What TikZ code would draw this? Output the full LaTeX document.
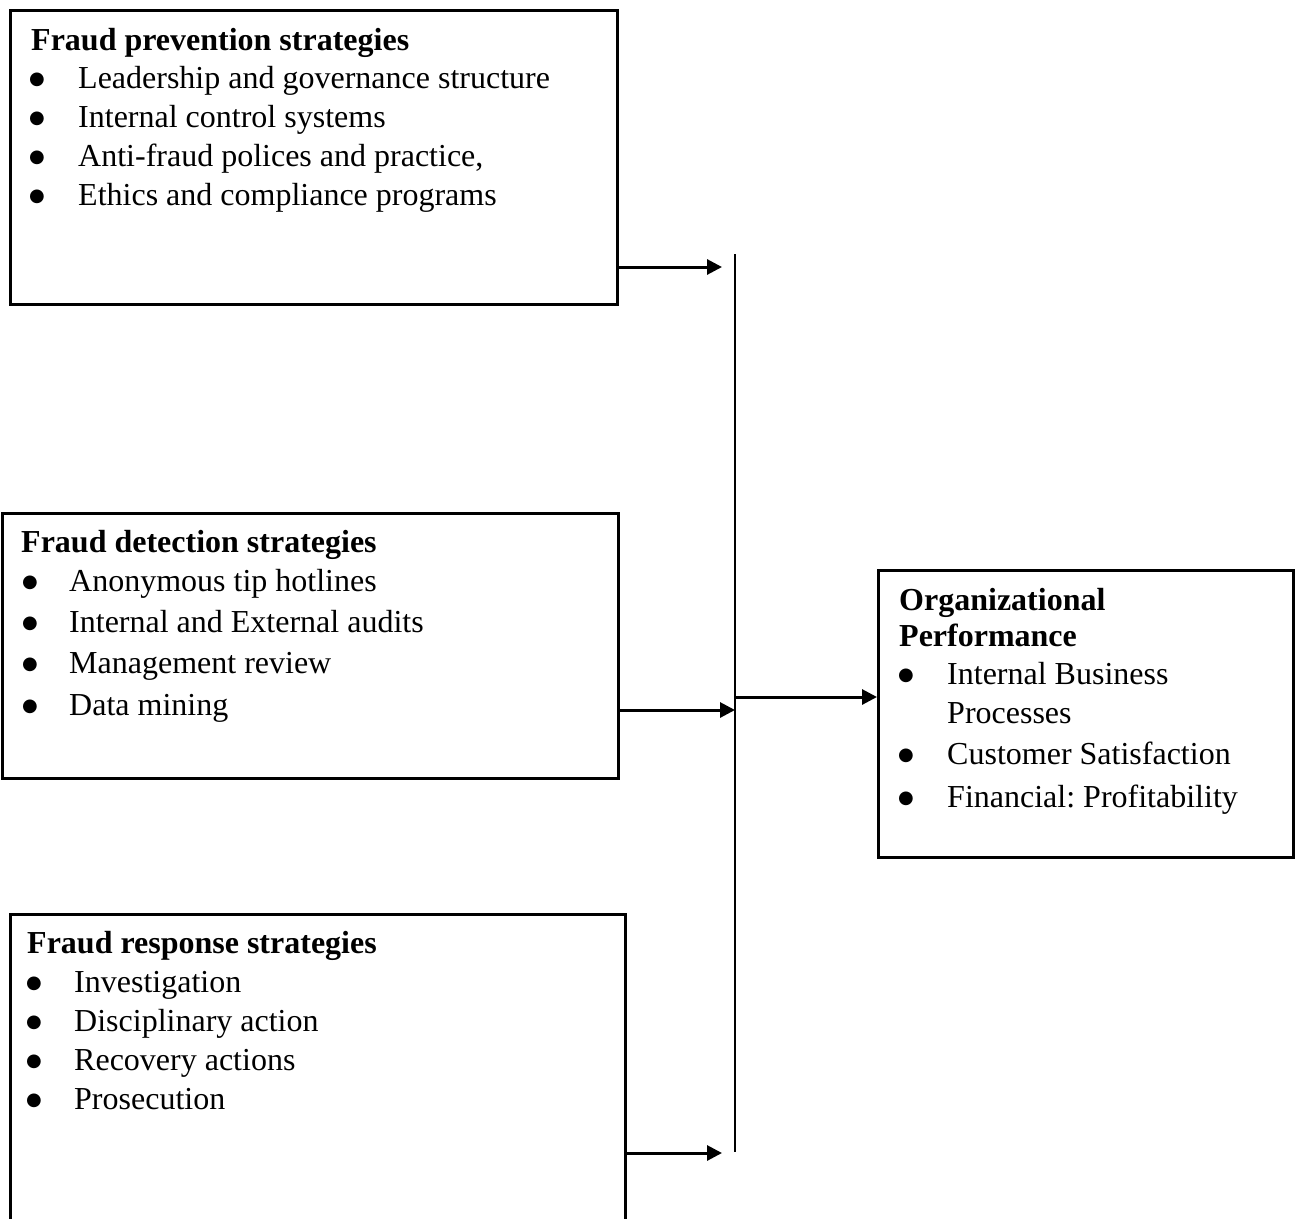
\documentclass[tikz,border=0pt]{standalone}
\usepackage{fontspec}
\setmainfont{Liberation Serif}
\newfontfamily\symfont{DejaVu Sans}
\usetikzlibrary{arrows.meta}
\newcommand\blt{●}
\tikzset{
  box/.style={draw, line width=2.8pt, rectangle, anchor=north west, inner sep=0pt},
  txt/.style={anchor=base west, inner sep=0pt, font=\fontsize{32}{39}\selectfont\frenchspacing},
  ttl/.style={txt, font=\fontsize{32}{39}\selectfont\bfseries},
  bul/.style={anchor=base, inner sep=0pt, yshift=4pt, font=\symfont\fontsize{18}{19}\selectfont},
  arr/.style={line width=3pt, -{Triangle[length=15pt,width=15pt]}},
  vline/.style={line width=1.5pt}
}
\begin{document}
\begin{tikzpicture}[x=1pt,y=-1pt]
\clip (0,0) rectangle (1300,1218);
\useasboundingbox (0,0) rectangle (1300,1218);
% boxes
\node[box, minimum width=607pt, minimum height=294pt] (b1) at (9,9) {};
\node[box, minimum width=616pt, minimum height=265pt] (b2) at (1,512) {};
\node[box, minimum width=615pt, minimum height=340pt] (b3) at (9,913) {};
\node[box, minimum width=415pt, minimum height=287pt] (b4) at (877,569) {};
% box 1 text
\node[ttl] (b1t) at (31,50) {Fraud prevention strategies};
\node[bul] (b1b1) at (37,88) {\blt};
\node[txt] (b1i1) at (78,88) {Leadership and governance structure};
\node[bul] (b1b2) at (37,127) {\blt};
\node[txt] (b1i2) at (78,127) {Internal control systems};
\node[bul] (b1b3) at (37,166) {\blt};
\node[txt] (b1i3) at (78,166) {Anti-fraud polices and practice,};
\node[bul] (b1b4) at (37,205) {\blt};
\node[txt] (b1i4) at (78,205) {Ethics and compliance programs};
% box 2 text
\node[ttl] (b2t) at (21,552) {Fraud detection strategies};
\node[bul] (b2b1) at (30,591) {\blt};
\node[txt] (b2i1) at (69,591) {Anonymous tip hotlines};
\node[bul] (b2b2) at (30,632) {\blt};
\node[txt] (b2i2) at (69,632) {Internal and External audits};
\node[bul] (b2b3) at (30,673) {\blt};
\node[txt] (b2i3) at (69,673) {Management review};
\node[bul] (b2b4) at (30,715) {\blt};
\node[txt] (b2i4) at (69,715) {Data mining};
% box 3 text
\node[ttl] (b3t) at (27,953) {Fraud response strategies};
\node[bul] (b3b1) at (34,992) {\blt};
\node[txt] (b3i1) at (74,992) {Investigation};
\node[bul] (b3b2) at (34,1031) {\blt};
\node[txt] (b3i2) at (74,1031) {Disciplinary action};
\node[bul] (b3b3) at (34,1070) {\blt};
\node[txt] (b3i3) at (74,1070) {Recovery actions};
\node[bul] (b3b4) at (34,1109) {\blt};
\node[txt] (b3i4) at (74,1109) {Prosecution};
% box 4 text
\node[ttl] (b4t1) at (899,610) {Organizational};
\node[ttl] (b4t2) at (899,646) {Performance};
\node[bul] (b4b1) at (906,684) {\blt};
\node[txt] (b4i1) at (947,684) {Internal Business};
\node[txt] (b4i1b) at (947,723) {Processes};
\node[bul] (b4b2) at (906,764) {\blt};
\node[txt] (b4i2) at (947,764) {Customer Satisfaction};
\node[bul] (b4b3) at (906,807) {\blt};
\node[txt] (b4i3) at (947,807) {Financial: Profitability};
% vertical collector line
\coordinate (vtop) at (735,254);
\coordinate (vbot) at (735,1152);
\draw[vline] (vtop) -- (vbot);
% arrow end points
\coordinate (e1) at (722,267);
\coordinate (e2) at (735,710);
\coordinate (e3) at (722,1153);
\coordinate (s4) at (735,697);
% connectors
\draw[arr] (b1.east |- e1) -- (e1);
\draw[arr] (b2.east |- e2) -- (e2);
\draw[arr] (b3.east |- e3) -- (e3);
\draw[arr] (s4) -- (b4.west |- s4);
\end{tikzpicture}
\end{document}
